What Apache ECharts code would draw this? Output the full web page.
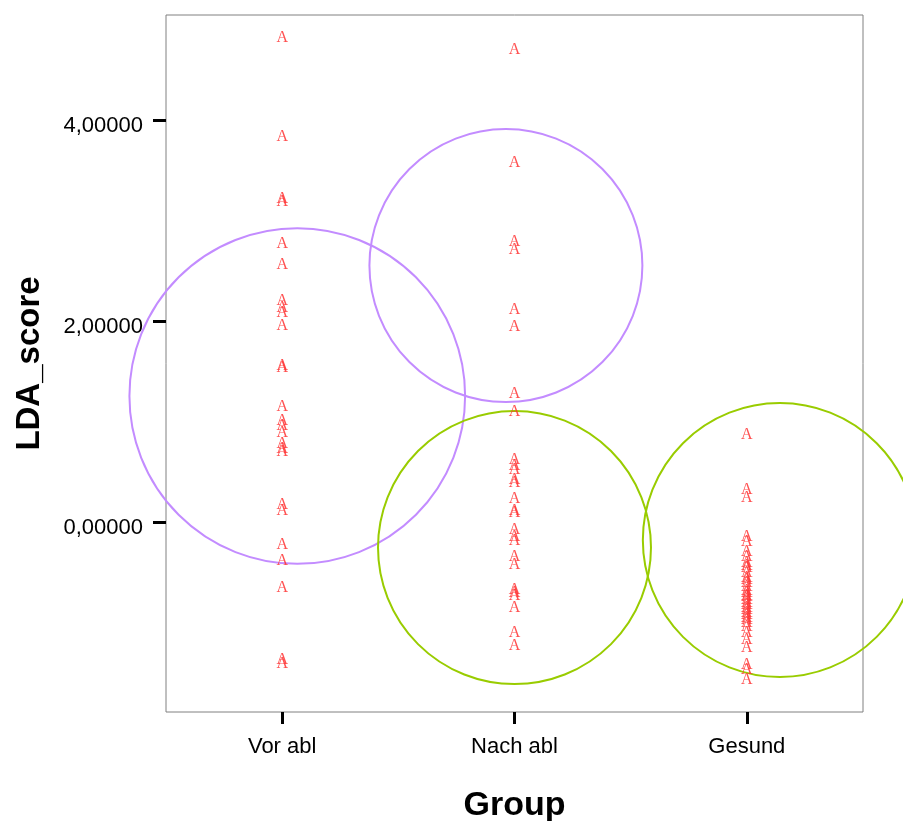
<!DOCTYPE html>
<html>
<head>
<meta charset="utf-8">
<script src="https://cdn.jsdelivr.net/npm/echarts@6/dist/echarts.min.js"></script>
<style>
  html, body { margin: 0; padding: 0; background: #ffffff; }
  #chart { width: 903px; height: 821px; }
</style>
</head>
<body>
<div id="chart"></div>
<script>
// ---- Data ----
const categories = ['Vor abl', 'Nach abl', 'Gesund'];

const vorAbl = [4.816, 3.831, 3.214, 3.184, 2.766, 2.557, 2.199, 2.129, 2.080, 1.950,
  1.552, 1.532, 1.144, 1.005, 0.955, 0.886, 0.776, 0.726, 0.697, 0.169, 0.109,
  -0.229, -0.388, -0.657, -1.373, -1.413];

const nachAbl = [4.697, 3.572, 2.786, 2.706, 2.109, 1.940, 1.274, 1.095, 0.617, 0.557,
  0.517, 0.418, 0.388, 0.229, 0.109, 0.090, -0.080, -0.149, -0.189, -0.348, -0.428,
  -0.677, -0.706, -0.736, -0.856, -1.104, -1.234];

const gesund = [0.866, 0.318, 0.239, -0.149, -0.199, -0.299, -0.348, -0.408, -0.440,
  -0.458, -0.507, -0.550, -0.577, -0.600, -0.647, -0.680, -0.706, -0.730, -0.746,
  -0.776, -0.800, -0.826, -0.850, -0.876, -0.900, -0.925, -0.950, -0.975, -1.000,
  -1.045, -1.104, -1.174, -1.254, -1.423, -1.473, -1.572];

const yTickValues = [0, 2, 4];

// circles: centre (group position, score) and radius in score units
const circleX = [0.065, 0.963, 1.000, 2.142];
const circleY = [1.254, 2.552, -0.254, -0.179];
const circleR = [1.670, 1.358, 1.358, 1.363];
const circleKind = ['purple', 'purple', 'green', 'green'];

// ---- Build ----
const groups = [vorAbl, nachAbl, gesund];
const points = [];
groups.forEach((vals, gi) => vals.forEach(v => points.push([gi, v])));

const circleData = circleX.map((x, i) => [x, circleY[i], circleR[i], circleKind[i] === 'purple' ? 0 : 1]);
const circleColors = ['#c38cff', '#99cc00'];

const chart = echarts.init(document.getElementById('chart'), null, { renderer: 'canvas' });

const option = {
  backgroundColor: '#ffffff',
  animation: false,
  grid: {
    left: 166, top: 15, right: 40, bottom: 109,
    containLabel: false,
    outerBoundsMode: 'none',
    show: true, borderColor: '#808080', borderWidth: 1, backgroundColor: 'transparent'
  },
  xAxis: {
    type: 'value',
    min: -0.5, max: 2.5,
    splitLine: { show: false },
    axisLine: { show: false, onZero: false },
    axisTick: { show: true, customValues: [0, 1, 2], length: 12, lineStyle: { color: '#000', width: 3 } },
    axisLabel: {
      customValues: [0, 1, 2],
      margin: 24,
      formatter: v => categories[Math.round(v)],
      color: '#000', fontFamily: 'Liberation Sans, Arial, sans-serif', fontSize: 22
    },
    name: 'Group',
    nameLocation: 'middle',
    nameGap: 77,
    nameTextStyle: { color: '#000', fontFamily: 'Liberation Sans, Arial, sans-serif', fontSize: 34, fontWeight: 'bold' }
  },
  yAxis: {
    type: 'value',
    min: -1.89, max: 5.045,
    splitLine: { show: false },
    axisLine: { show: false, onZero: false },
    axisTick: { show: true, customValues: yTickValues, length: 13, lineStyle: { color: '#000', width: 3 } },
    axisLabel: {
      customValues: yTickValues,
      margin: 23,
      verticalAlign: 'top',
      lineHeight: 12,
      formatter: v => v.toFixed(5).replace('.', ','),
      color: '#000', fontFamily: 'Liberation Sans, Arial, sans-serif', fontSize: 22
    },
    name: 'LDA_score',
    nameLocation: 'middle',
    nameGap: 120,
    nameRotate: 90,
    nameTextStyle: { color: '#000', fontFamily: 'Liberation Sans, Arial, sans-serif', fontSize: 33, fontWeight: 'bold' }
  },
  series: [
    {
      type: 'custom',
      clip: false,
      data: circleData,
      z: 2,
      renderItem: function (params, api) {
        const c = api.coord([api.value(0), api.value(1)]);
        const r = api.size([0, api.value(2)])[1];
        return {
          type: 'circle',
          shape: { cx: c[0], cy: c[1], r: r },
          style: { fill: 'none', stroke: circleColors[api.value(3)], lineWidth: 2 }
        };
      }
    },
    {
      type: 'custom',
      clip: false,
      data: points,
      z: 3,
      renderItem: function (params, api) {
        const c = api.coord([api.value(0), api.value(1)]);
        return {
          type: 'text',
          style: {
            text: 'A', x: c[0], y: c[1],
            align: 'center', verticalAlign: 'middle',
            fill: 'rgba(255,50,50,0.85)',
            font: '16px "Liberation Serif", "DejaVu Serif", serif'
          }
        };
      }
    }
  ]
};

chart.setOption(option);
</script>
</body>
</html>
